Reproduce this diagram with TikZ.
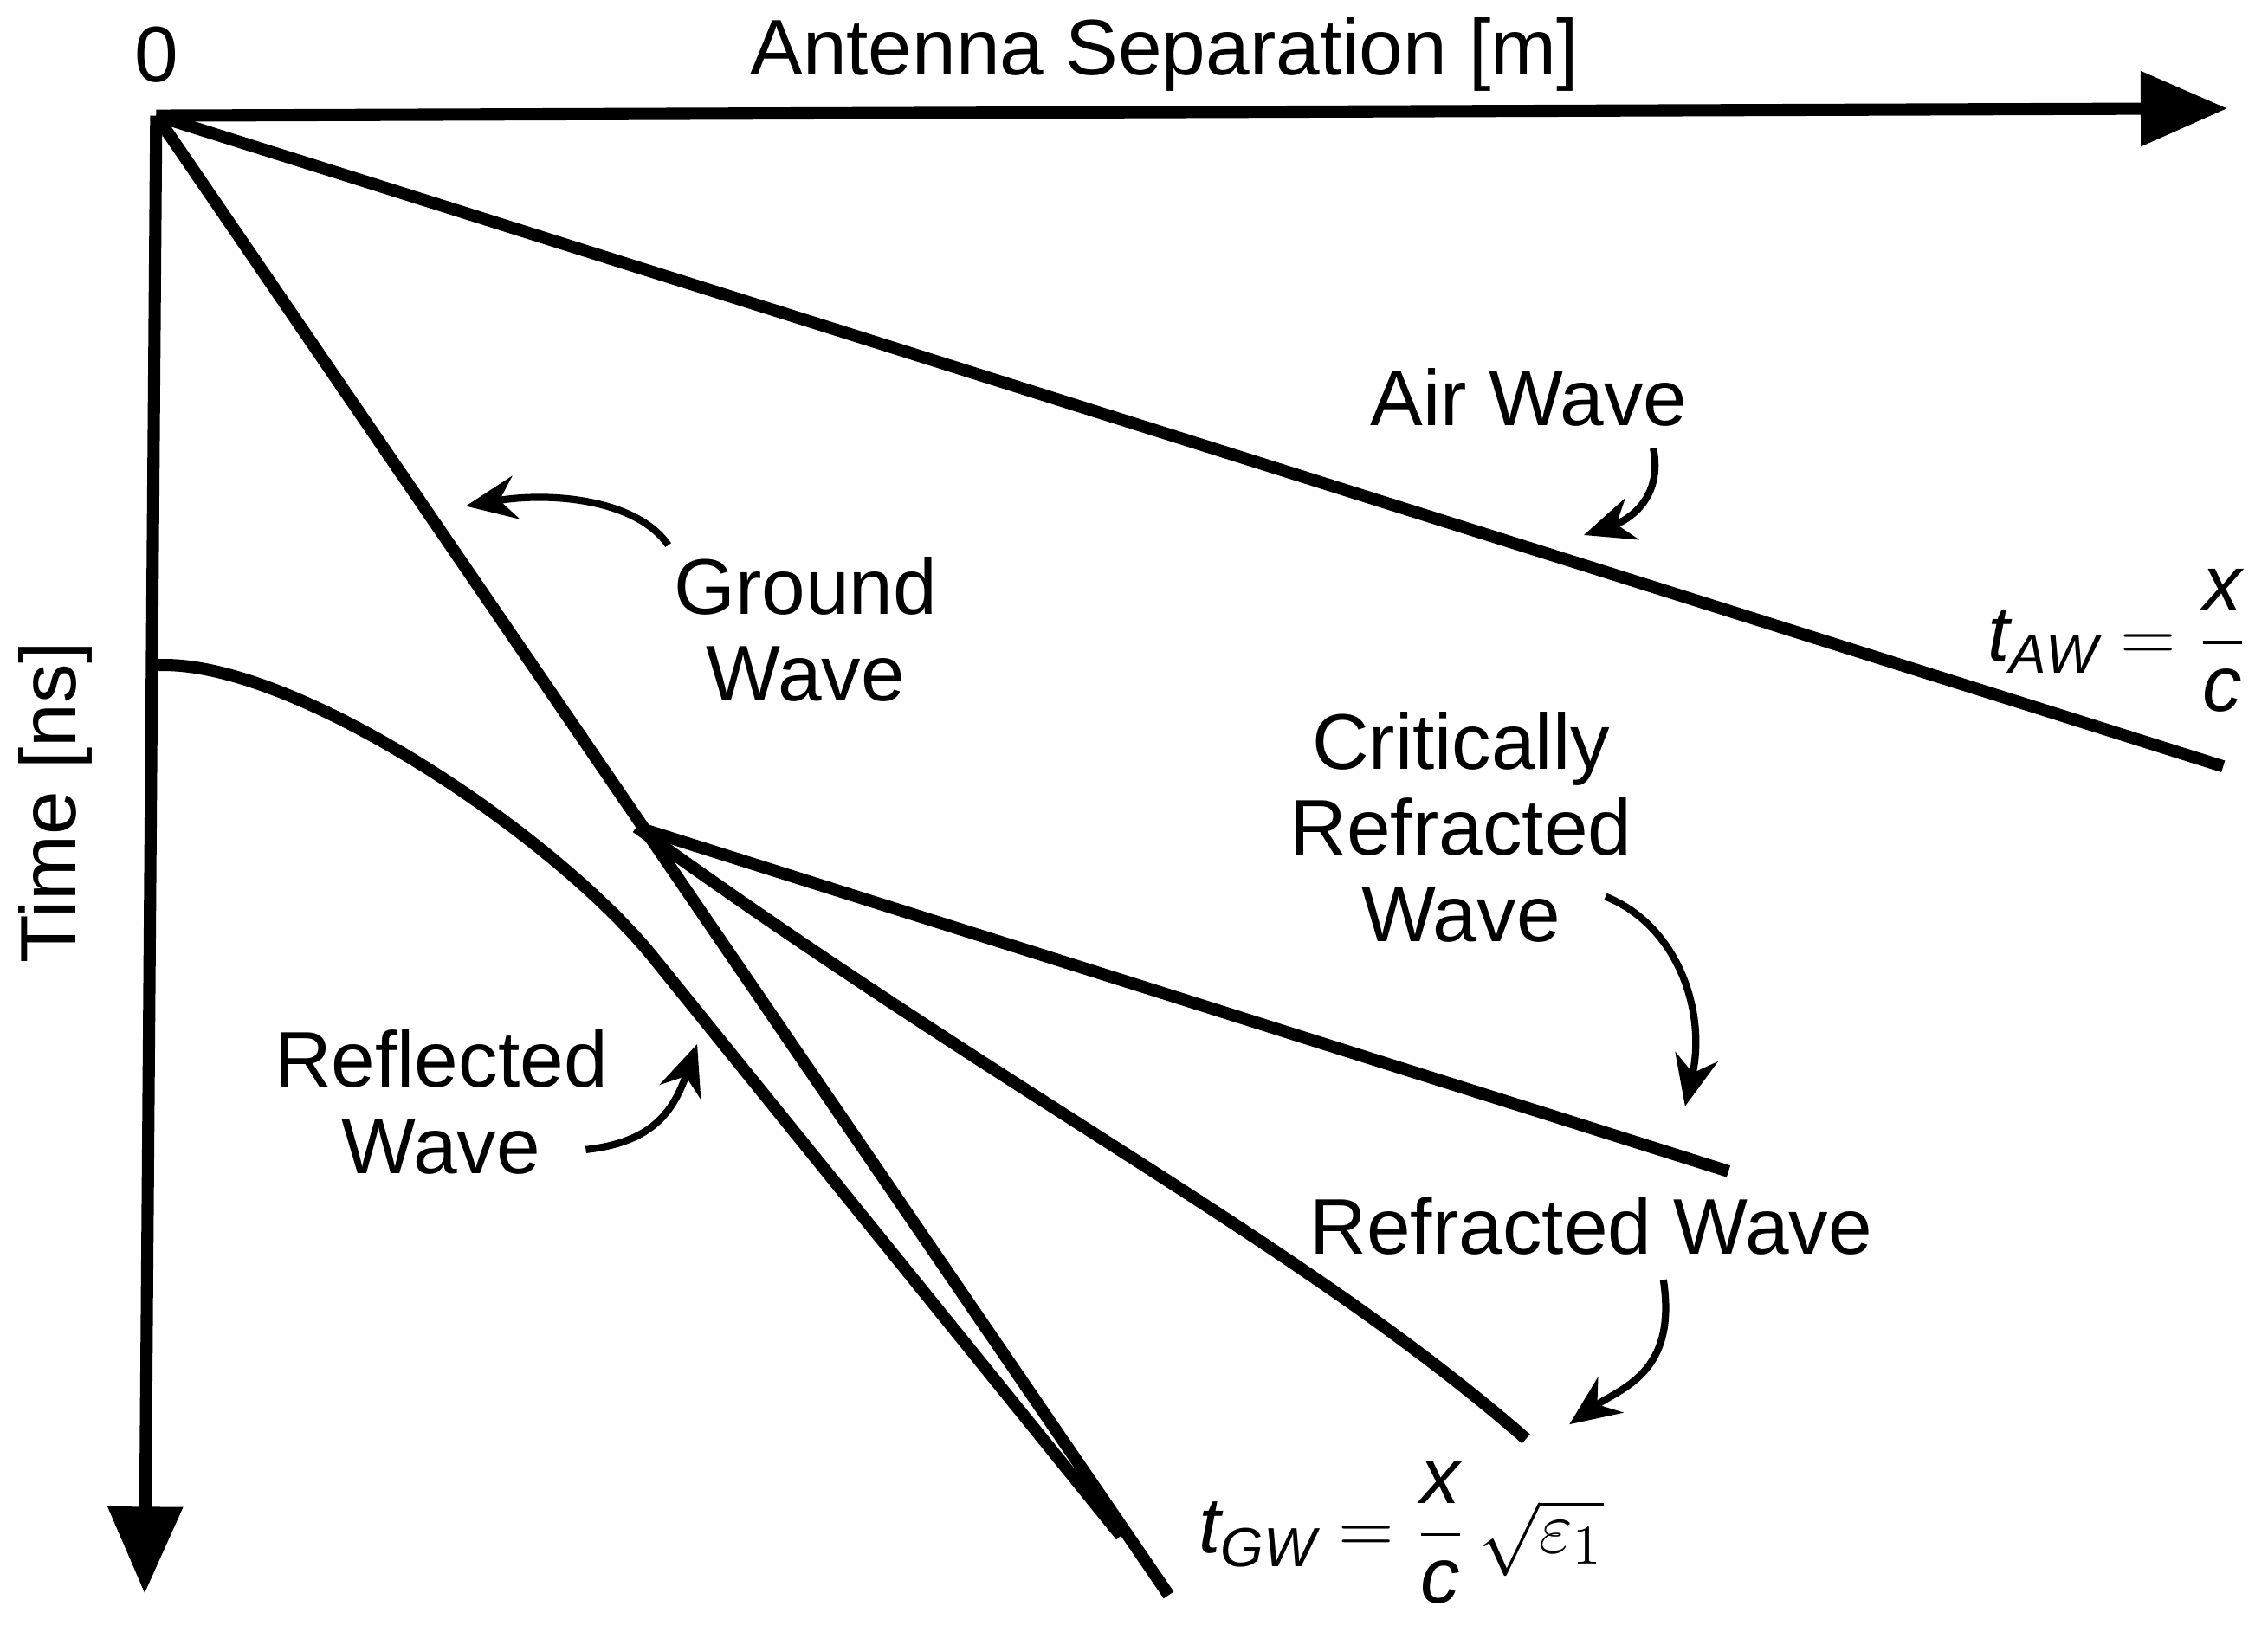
\documentclass[tikz,border=0pt]{standalone}
\usepackage{amsmath}
\usepackage{fontspec}
\setmainfont{Liberation Sans}
\usetikzlibrary{arrows.meta}
\newcommand{\ti}[1]{\text{\itshape #1}}
\begin{document}
\begin{tikzpicture}[x=0.01cm,y=-0.01cm,
  wave/.style={line width=2.4pt},
  axis/.style={line width=2.4pt,-{Triangle[length=0.6cm,width=0.5cm]}},
  pointer/.style={line width=1.4pt,-{Stealth[length=0.35cm,width=0.3cm]}},
  lbl/.style={font=\fontsize{15.5}{17}\selectfont,align=center,inner sep=0pt}]
\useasboundingbox (0,0) rectangle (1568,1128);
\coordinate (O) at (108,80);
\coordinate (xend) at (1540,75);
\coordinate (yend) at (100,1102);
\draw[axis] (O) -- (xend);
\draw[axis] (O) -- (yend);
\node[lbl] (zero) at (108,38) {0};
\node[lbl] (xlab) at (805,38) {Antenna Separation [m]};
\node[lbl,rotate=90] (ylab) at (38,555) {Time [ns]};
% waves
\coordinate (awend) at (1537,530);
\coordinate (gwend) at (808,1103);
\coordinate (C) at (440,572);
\coordinate (crend) at (1195,810);
\coordinate (rfend) at (1055,995);
\coordinate (r0) at (108,460);
\coordinate (rm) at (450,660);
\coordinate (rend) at (775,1062);
\draw[wave] (O) -- (awend);
\draw[wave] (O) -- (gwend);
\draw[wave] (C) -- (crend);
\draw[wave] (C) .. controls (700,760) and (900,860) .. (rfend);
\draw[wave] (r0) .. controls (200,455) and (380,575) .. (rm) -- (rend);
% labels
\node[lbl] (aw) at (1057,275) {Air Wave};
\node[lbl] (gw) at (557,435) {Ground\\Wave};
\node[lbl] (cr) at (1010,572) {Critically\\Refracted\\Wave};
\node[lbl] (rw) at (1100,848) {Refracted Wave};
\node[lbl] (rl) at (305,762) {Reflected\\Wave};
\coordinate (awa) at (1143,310); \coordinate (awb) at (1095,370);
\draw[pointer] (awa) .. controls (1150,345) and (1125,360) .. (awb);
\coordinate (gwa) at (462,377); \coordinate (gwb) at (322,350);
\draw[pointer] (gwa) .. controls (440,345) and (380,340) .. (gwb);
\coordinate (cra) at (1110,620); \coordinate (crb) at (1165,765);
\draw[pointer] (cra) .. controls (1160,640) and (1180,700) .. (crb);
\coordinate (rwa) at (1150,885); \coordinate (rwb) at (1085,985);
\draw[pointer] (rwa) .. controls (1160,950) and (1120,960) .. (rwb);
\coordinate (rla) at (405,795); \coordinate (rlb) at (482,722);
\draw[pointer] (rla) .. controls (450,790) and (465,770) .. (rlb);
\node[lbl,anchor=east] (taw) at (1555,443) {$\ti{t}_{\ti{AW}}=\dfrac{\ti{x}}{\ti{c}}$};
\node[lbl,anchor=west] (tgw) at (828,1060) {$\ti{t}_{\ti{GW}}=\dfrac{\ti{x}}{\ti{c}}\,\sqrt{\varepsilon_1}$};
\end{tikzpicture}
\end{document}
